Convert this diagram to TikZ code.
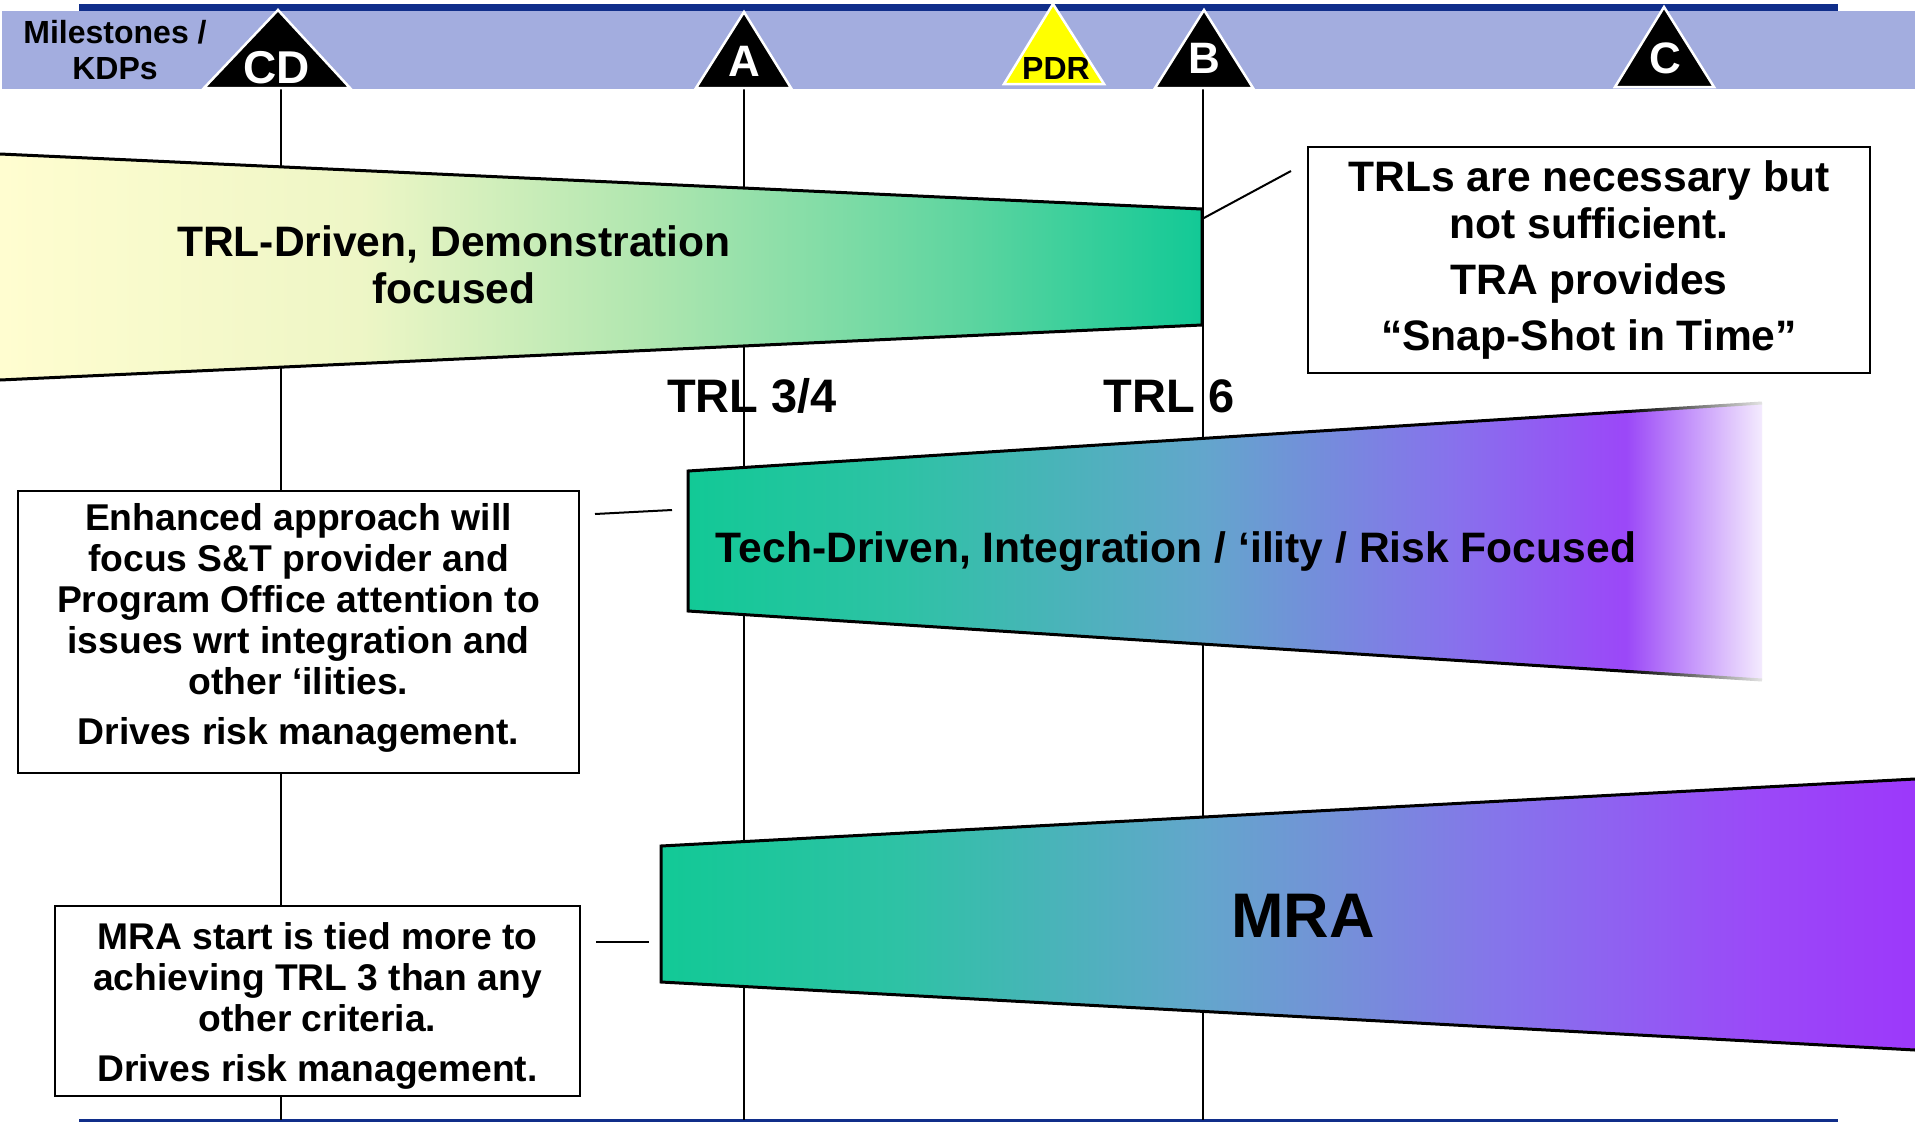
\documentclass[tikz,border=0pt]{standalone}
\usepackage{fontspec}
\setmainfont{Liberation Sans}
\usetikzlibrary{fadings}

% header colours
\definecolor{kdpbar}{RGB}{163,173,223}
\definecolor{kdpline}{RGB}{16,46,138}
\definecolor{pdryellow}{RGB}{255,255,0}
% band colours
\definecolor{trlA}{RGB}{255,253,208}
\definecolor{trlB}{RGB}{238,246,198}
\definecolor{trlC}{RGB}{175,230,175}
\definecolor{trlD}{RGB}{95,213,160}
\definecolor{bandgreen}{RGB}{18,201,150}
\definecolor{bandgreen2}{RGB}{46,194,165}
\definecolor{bandblue}{RGB}{99,166,204}
\definecolor{bandblue2}{RGB}{116,145,216}
\definecolor{bandviolet}{RGB}{135,114,236}
\definecolor{bandpurple}{RGB}{155,72,248}
\definecolor{bandpurple2}{RGB}{156,56,250}

\pgfdeclarehorizontalshading{trlshade}{100bp}{color(0bp)=(trlA); color(25bp)=(trlA);
  color(40bp)=(trlB); color(52bp)=(trlC); color(65bp)=(trlD); color(75bp)=(bandgreen);
  color(100bp)=(bandgreen)}
\pgfdeclarehorizontalshading{techshade}{100bp}{color(0bp)=(bandgreen); color(25bp)=(bandgreen);
  color(35bp)=(bandgreen2); color(49bp)=(bandblue); color(60.5bp)=(bandviolet);
  color(68.5bp)=(bandpurple); color(100bp)=(bandpurple)}
\pgfdeclarehorizontalshading{mrashade}{100bp}{color(0bp)=(bandgreen); color(25bp)=(bandgreen);
  color(34.5bp)=(bandgreen2); color(46.5bp)=(bandblue); color(52bp)=(bandblue2);
  color(59bp)=(bandviolet); color(69bp)=(bandpurple); color(75bp)=(bandpurple2);
  color(100bp)=(bandpurple2)}
\tikzfading[name=fade to white, left color=transparent!100, right color=transparent!8]

\newcommand\fsz[1]{\bfseries\fontsize{#1}{1.1\dimexpr#1pt\relax}\selectfont}

\begin{document}
\begin{tikzpicture}[x=1pt, y=-1pt, line join=miter,
  every node/.style={inner sep=0pt},
  band/.style={line width=3pt},
  tick/.style={line width=2pt},
  note/.style={draw, line width=2.5pt, fill=white, align=center},
  kdp/.style={draw=white, line width=2.5pt}]
\useasboundingbox (0,0) rectangle (1915,1122);

% header strip
\fill[kdpline] (79,4) rectangle (1838,12);
\fill[kdpbar] (2,11) rectangle (1915,89);
\node[align=center, font=\fsz{32}] (kdps) at (115,50) {Milestones /\\KDPs};

% decision lines down to the bottom rule
\coordinate (bottom) at (0,1120);
\draw[kdpline, line width=3pt] (79,1120) -- (1838,1120);
\foreach \m/\x in {cd/281, a/744, b/1203}
  \draw[tick] (\x,89) coordinate (\m-base) -- (\m-base |- bottom);

% milestones
\filldraw[kdp, fill=black] (278,10) -- (350,88) -- (204,88) -- cycle;
\filldraw[kdp, fill=black] (744,12) -- (791,88) -- (696,88) -- cycle;
\filldraw[kdp, fill=pdryellow] (1053,4) -- (1104,84) -- (1004,84) -- cycle;
\filldraw[kdp, fill=black] (1204,10) -- (1253,88) -- (1155,88) -- cycle;
\filldraw[kdp, fill=black] (1664,7) -- (1714,87) -- (1615,87) -- cycle;
\node[anchor=base, text=white, font=\fsz{46}] (cd) at (277,83) {CD};
\node[anchor=base, text=white, font=\fsz{44}] (a) at (744,76) {A};
\node[anchor=base, font=\fsz{32}] (pdr) at (1056,79) {PDR};
\node[anchor=base, text=white, font=\fsz{44}] (b) at (1204,73) {B};
\node[anchor=base, text=white, font=\fsz{44}] (c) at (1665,73) {C};

% TRL-driven band
\shade[shading=trlshade] (0,154) -- (1202,209) -- (1202,325) -- (0,380) -- cycle;
\draw[band] (0,154) -- (1202,209) -- (1202,325) -- (0,380);
\node[align=center, font=\fsz{42.6}] (trl) at (454,265) {TRL-Driven, Demonstration\\focused};
\coordinate (trl-edge) at (1202,219);
\coordinate (note1-tail) at (1291,171);
\draw[tick] (trl-edge) -- (note1-tail);
\node[note, minimum width=562, minimum height=226, font=\fsz{42.6}] (note1) at (1589,260)
  {TRLs are necessary but\\not sufficient.\\[9pt]TRA provides\\[9pt]“Snap-Shot in Time”};

\node[anchor=base, font=\fsz{47}] (trl34) at (752,412) {TRL 3/4};
\node[anchor=base, font=\fsz{47}] (trl6) at (1169,412) {TRL 6};

% tech-driven band, fading out on the right
\shade[shading=techshade] (688,471) -- (1762,403) -- (1762,680) -- (688,611) -- cycle;
\draw[band] (1762,403) -- (688,471) -- (688,611) -- (1762,680);
\fill[white, path fading=fade to white] (1626,394) rectangle (1766,690);
\node[anchor=base, font=\fsz{42.6}] (tech) at (1176,562)
  {Tech-Driven, Integration / ‘ility / Risk Focused};
\node[note, minimum width=561, minimum height=282, font=\fsz{37.3}] (note2) at (298.5,632)
  {Enhanced approach will\\focus S\&T provider and\\Program Office attention to\\issues wrt integration and\\other ‘ilities.\\[9pt]Drives risk management.\rule[-16pt]{0pt}{1pt}};
\coordinate (note2-tail) at (595,514);
\coordinate (tech-tail) at (672,510);
\draw[tick] (note2-tail) -- (tech-tail);

% MRA band
\shade[shading=mrashade] (661,846) -- (1915,779) -- (1915,1050) -- (661,982) -- cycle;
\draw[band] (1915,779) -- (661,846) -- (661,982) -- (1915,1050);
\node[anchor=base, font=\fsz{63}] (mra) at (1303,937) {MRA};
\node[note, minimum width=525, minimum height=190, font=\fsz{37.2}] (note3) at (317.5,1001)
  {\rule{0pt}{37pt}MRA start is tied more to\\achieving TRL 3 than any\\other criteria.\\[9pt]Drives risk management.};
\coordinate (note3-tail) at (596,942);
\coordinate (mra-tail) at (649,942);
\draw[tick] (note3-tail) -- (mra-tail);
\end{tikzpicture}
\end{document}
